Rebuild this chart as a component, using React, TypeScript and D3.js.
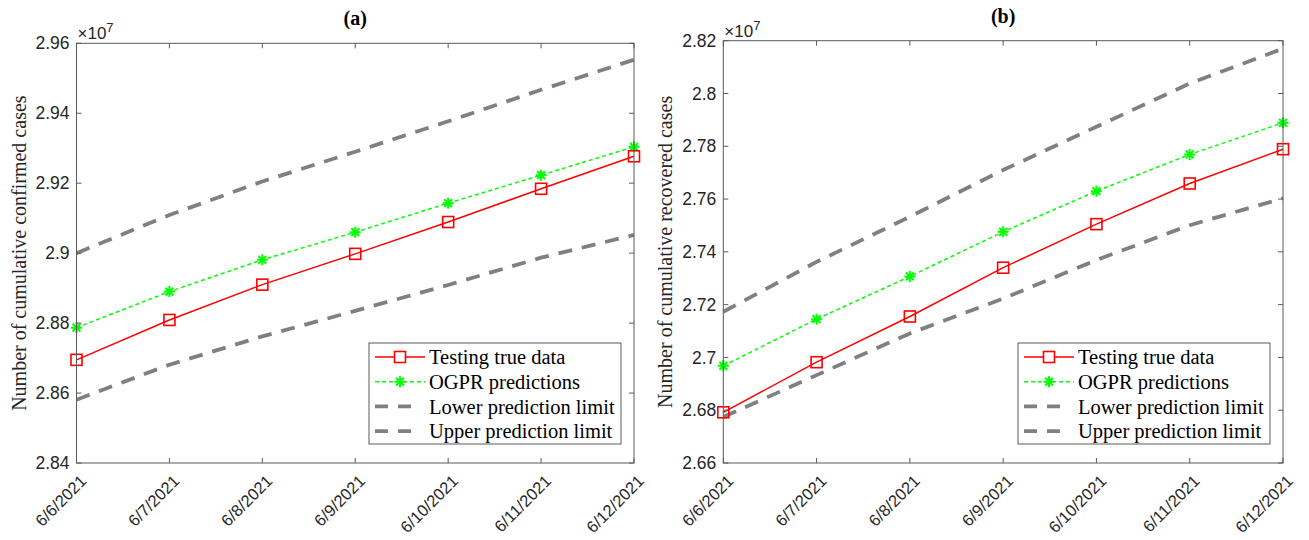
import React from 'react';
import * as d3 from 'd3';

// dates on the x axis
const dates = ['6/6/2021', '6/7/2021', '6/8/2021', '6/9/2021', '6/10/2021', '6/11/2021', '6/12/2021'];

// (a) cumulative confirmed cases
const confirmedTrue = [28695000, 28809000, 28910000, 28998000, 29089000, 29184000, 29277000];
const confirmedPred = [28787000, 28890000, 28981000, 29060000, 29143000, 29223000, 29304000];
const confirmedLower = [28581000, 28681000, 28762000, 28835000, 28909000, 28987000, 29052000];
const confirmedUpper = [29000000, 29109000, 29205000, 29290000, 29377000, 29467000, 29553000];
const confirmedTicks = [28400000, 28600000, 28800000, 29000000, 29200000, 29400000, 29600000];

// (b) cumulative recovered cases
const recoveredTrue = [26792000, 26982000, 27155000, 27340000, 27505000, 27659000, 27789000];
const recoveredPred = [26968000, 27145000, 27307000, 27476000, 27630000, 27769000, 27889000];
const recoveredLower = [26774000, 26933000, 27091000, 27223000, 27369000, 27501000, 27603000];
const recoveredUpper = [27173000, 27362000, 27533000, 27710000, 27874000, 28038000, 28170000];
const recoveredTicks = [26600000, 26800000, 27000000, 27200000, 27400000, 27600000, 27800000, 28000000, 28200000];

const legendLabels = ['Testing true data', 'OGPR predictions', 'Lower prediction limit', 'Upper prediction limit'];

const serif = '"Liberation Serif", "Times New Roman", serif';
const sans = '"Liberation Sans", Arial, sans-serif';
const axisColor = '#5a5a5a';
const textColor = '#262626';

const starPath = (r: number) => {
  const d = r * 0.707;
  return `M${-r},0L${r},0M0,${-r}L0,${r}M${-d},${-d}L${d},${d}M${-d},${d}L${d},${-d}`;
};

function Panel({ left, right, top, bottom, ticks, title, ylabel, truth, pred, lower, upper }: any) {
  const x = d3.scalePoint<string>().domain(dates).range([left, right]);
  const y = d3.scaleLinear().domain([ticks[0], ticks[ticks.length - 1]]).range([bottom, top]);
  const line = d3.line<number>().x((_, i) => x(dates[i])!).y(d => y(d));
  const fmt = (v: number) => d3.format('~g')(+(v / 1e7).toFixed(2));
  const cx = (left + right) / 2;
  const cy = (top + bottom) / 2;
  const bx = right - 265; // legend box left
  const by = bottom - 120;
  const tl = 5;

  return (
    <g>
      <text x={cx} y={top - 18} textAnchor="middle" fontFamily={serif} fontWeight="bold" fontSize={20} fill="#000">{title}</text>
      <text transform={`translate(${left - 51},${cy}) rotate(-90)`} textAnchor="middle" fontFamily={serif} fontSize={20} fill={textColor}>{ylabel}</text>

      {/* lines */}
      <path d={line(lower)!} fill="none" stroke="#808080" strokeWidth={3.8} strokeDasharray="14,10" />
      <path d={line(upper)!} fill="none" stroke="#808080" strokeWidth={3.8} strokeDasharray="14,10" />
      <path d={line(pred)!} fill="none" stroke="#00ff00" strokeWidth={1.5} strokeDasharray="4,3" />
      <path d={line(truth)!} fill="none" stroke="#ff0000" strokeWidth={1.5} />
      {pred.map((v: number, i: number) => (
        <path key={'p' + i} d={starPath(5.5)} transform={`translate(${x(dates[i])},${y(v)})`} stroke="#00ff00" strokeWidth={2} fill="none" />
      ))}
      {truth.map((v: number, i: number) => (
        <rect key={'t' + i} x={x(dates[i])! - 5.5} y={y(v) - 5.5} width={11} height={11} fill="none" stroke="#ff0000" strokeWidth={1.6} />
      ))}

      {/* box */}
      <rect x={left} y={top} width={right - left} height={bottom - top} fill="none" stroke={axisColor} strokeWidth={1} />
      {dates.map(d => (
        <g key={d}>
          <line x1={x(d)} x2={x(d)} y1={bottom} y2={bottom - tl} stroke={axisColor} />
          <line x1={x(d)} x2={x(d)} y1={top} y2={top + tl} stroke={axisColor} />
          <text transform={`translate(${x(d)! + 7},${bottom + 15}) rotate(-45)`} textAnchor="end" dy="0.35em" fontFamily={sans} fontSize={16.5} fill={textColor}>{d}</text>
        </g>
      ))}
      {ticks.map((t: number) => (
        <g key={t}>
          <line x1={left} x2={left + tl} y1={y(t)} y2={y(t)} stroke={axisColor} />
          <line x1={right} x2={right - tl} y1={y(t)} y2={y(t)} stroke={axisColor} />
          <text x={left - 7} y={y(t)} dy="0.35em" textAnchor="end" fontFamily={sans} fontSize={17.5} fill={textColor}>{fmt(t)}</text>
        </g>
      ))}
      <text x={left + 1} y={top - 4} fontFamily={sans} fontSize={17} fill={textColor}>
        ×10<tspan dy={-7} fontSize={13}>7</tspan>
      </text>

      {/* legend */}
      <rect x={bx} y={by} width={252} height={101} fill="#fff" stroke={axisColor} strokeWidth={1} />
      {legendLabels.map((lab, i) => {
        const yy = by + 14 + i * 24.7;
        const x1 = bx + 6;
        const x2 = bx + 56;
        return (
          <g key={lab}>
            {i === 0 && <>
              <line x1={x1} x2={x2} y1={yy} y2={yy} stroke="#ff0000" strokeWidth={1.5} />
              <rect x={(x1 + x2) / 2 - 5.5} y={yy - 5.5} width={11} height={11} fill="#fff" stroke="#ff0000" strokeWidth={1.6} />
            </>}
            {i === 1 && <>
              <line x1={x1} x2={x2} y1={yy} y2={yy} stroke="#00ff00" strokeWidth={1.5} strokeDasharray="4,3" />
              <path d={starPath(5.5)} transform={`translate(${(x1 + x2) / 2},${yy})`} stroke="#00ff00" strokeWidth={2} />
            </>}
            {i > 1 && <line x1={x1} x2={x1 + 37} y1={yy} y2={yy} stroke="#808080" strokeWidth={3.8} strokeDasharray="13,10" />}
            <text x={bx + 60} y={yy} dy="0.35em" fontFamily={serif} fontSize={20.5} fill="#000">{lab}</text>
          </g>
        );
      })}
    </g>
  );
}

export default function App() {
  return (
    <svg width={1309} height={540} style={{ position: 'absolute', left: 0, top: 0, background: '#fff' }}>
      <Panel left={76.5} right={634} top={43.3} bottom={463} ticks={confirmedTicks} title="(a)"
        ylabel="Number of cumulative confirmed cases"
        truth={confirmedTrue} pred={confirmedPred} lower={confirmedLower} upper={confirmedUpper} />
      <Panel left={723.3} right={1283} top={40.7} bottom={463} ticks={recoveredTicks} title="(b)"
        ylabel="Number of cumulative recovered cases"
        truth={recoveredTrue} pred={recoveredPred} lower={recoveredLower} upper={recoveredUpper} />
    </svg>
  );
}
